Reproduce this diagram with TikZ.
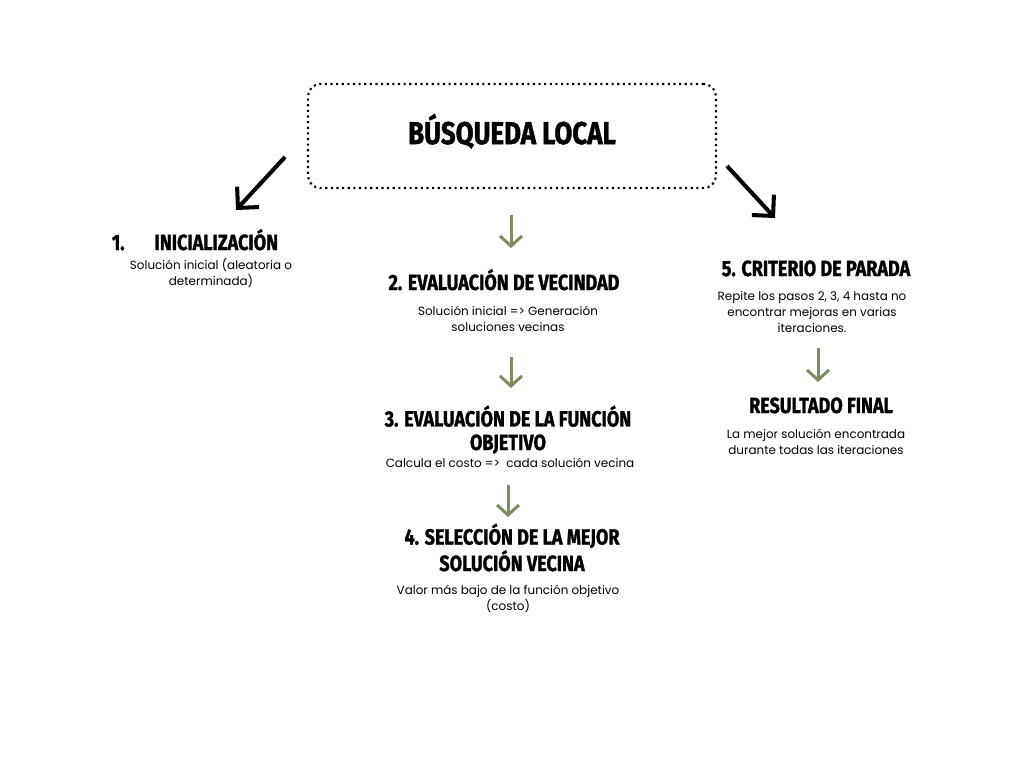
\documentclass[tikz,border=0pt]{standalone}
\usepackage{fontspec}
\setmainfont{Poppins}
\newfontfamily\headfont{Fira Sans}[FakeStretch=0.82, BoldFeatures={FakeBold=1.3}]
\usetikzlibrary{arrows.meta}
\definecolor{sage}{RGB}{125,140,100}
\tikzset{
  titlebox/.style={draw, dotted, line width=1.2pt, rounded corners=7pt,
    minimum width=8.16cm, minimum height=2.08cm, text depth=8pt,
    font=\headfont\bfseries\fontsize{18}{20}\selectfont},
  head/.style={anchor=base, align=center, inner sep=0pt,
    font=\headfont\bfseries\fontsize{12.5}{13.4}\selectfont},
  body/.style={anchor=base, align=center, inner sep=0pt,
    font=\fontsize{6.8}{9.1}\selectfont},
  down/.style={draw=sage, line width=1.7pt,
    -{Straight Barb[length=0.2cm, width=0.44cm]}},
  bigarrow/.style={line width=2.3pt,
    -{Straight Barb[length=0.3cm, width=0.6cm]}}
}
\begin{document}
\begin{tikzpicture}[x=0.02cm, y=-0.02cm]
  \useasboundingbox (0,0) rectangle (1024,768);
  % title
  \node[titlebox] (busq) at (512,136) {BÚSQUEDA LOCAL};
  % left column
  \node[head] (ini) at (195,250) {1.\hspace{0.6cm}INICIALIZACIÓN};
  \node[body] (inib) at (211,285) {Solución inicial (aleatoria o\\determinada)};
  % middle column
  \node[head] (vec) at (504,290) {2. EVALUACIÓN DE VECINDAD};
  \node[body] (vecb) at (508,331) {Solución inicial => Generación\\soluciones vecinas};
  \node[head] (obj) at (508,450) {3. EVALUACIÓN DE LA FUNCIÓN\\OBJETIVO};
  \node[body] (objb) at (510,467) {Calcula el costo =>\ \ cada solución vecina};
  \node[head] (sel) at (512,571) {4. SELECCIÓN DE LA MEJOR\\SOLUCIÓN VECINA};
  \node[body] (selb) at (508,610) {Valor más bajo de la función objetivo\\(costo)};
  % right column
  \node[head] (par) at (816,276) {5. CRITERIO DE PARADA};
  \node[body] (parb) at (812,332) {Repite los pasos 2, 3, 4 hasta no\\encontrar mejoras en varias\\iteraciones.};
  \node[head] (res) at (821,413) {RESULTADO FINAL};
  \node[body] (resb) at (816,454) {La mejor solución encontrada\\durante todas las iteraciones};
  % arrow ends
  \coordinate (l1) at (285,157);
  \coordinate (l2) at (236,210);
  \coordinate (r1) at (727,166);
  \coordinate (r2) at (775,218);
  \coordinate (v1) at (511,215);
  \coordinate (v2) at (511,248);
  \coordinate (o1) at (511,357);
  \coordinate (o2) at (511,388);
  \coordinate (s1) at (508,485);
  \coordinate (s2) at (508,517);
  \coordinate (p1) at (818,348);
  \coordinate (p2) at (818,382);
  \draw[bigarrow] (l1) -- (l2);
  \draw[bigarrow] (r1) -- (r2);
  \draw[down] (v1) -- (v2);
  \draw[down] (o1) -- (o2);
  \draw[down] (s1) -- (s2);
  \draw[down] (p1) -- (p2);
\end{tikzpicture}
\end{document}
